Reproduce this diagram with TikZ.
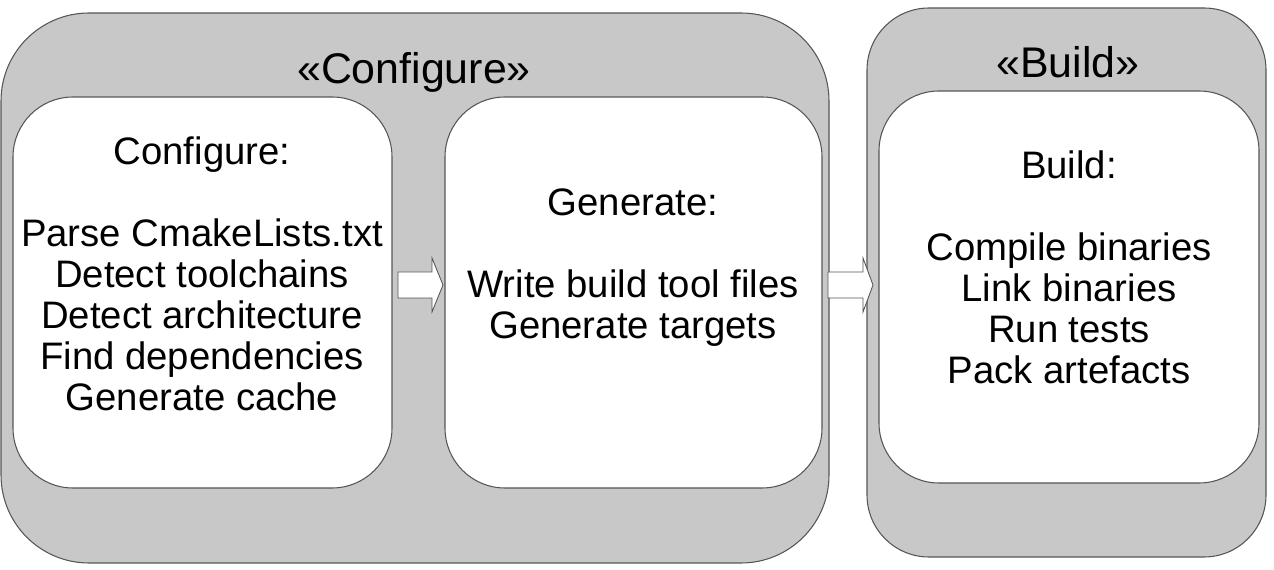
\documentclass[tikz,border=0pt]{standalone}
\usepackage{fontspec}
\setmainfont{Liberation Sans}
\usetikzlibrary{calc}

\definecolor{stagegray}{RGB}{200,200,200}
\definecolor{edgegray}{RGB}{85,85,85}

\tikzset{
  stage/.style={draw=edgegray, fill=stagegray, line width=0.6pt, inner sep=0pt},
  task/.style={draw=edgegray, fill=white, line width=0.6pt, inner sep=0pt,
    minimum height=7.82cm, rounded corners=1.2cm},
  title/.style={font=\fontsize{24.4}{28}\selectfont},
  tasktext/.style={align=center, font=\fontsize{21.8}{23.3}\selectfont},
  blockarrow/.style={draw=edgegray, fill=white, line width=0.5pt}
}

\begin{document}
\begin{tikzpicture}
\useasboundingbox (0,0) rectangle (25.48,11.4);

% stages
\node[stage, minimum width=16.56cm, minimum height=11cm, rounded corners=1.76cm] (configure) at (8.30,5.64) {};
\node[stage, minimum width=7.98cm, minimum height=10.98cm, rounded corners=1.24cm] (build) at (21.33,5.75) {};

\node[title] (configuretitle) at (8.28,9.96) {«Configure»};
\node[title] (buildtitle) at (21.36,10.16) {«Build»};

% tasks
\node[task, minimum width=7.58cm] (configurebox) at (4.05,5.55) {};
\node[task, minimum width=7.54cm] (generatebox) at (12.67,5.55) {};
\node[task, minimum width=7.6cm, minimum height=7.84cm] (buildbox) at (21.38,5.66) {};

\node[tasktext] (configuretext) at (4.04,5.93) {Configure:\\[23.3pt]Parse CmakeLists.txt\\Detect toolchains\\Detect architecture\\Find dependencies\\Generate cache};
\node[tasktext] (generatetext) at (12.66,6.05) {Generate:\\[23.3pt]Write build tool files\\Generate targets};
\node[tasktext] (buildtext) at (21.38,6.05) {Build:\\[23.3pt]Compile binaries\\Link binaries\\Run tests\\Pack artefacts};

% arrows
\coordinate (c1) at (7.96,5.70);
\coordinate (c2) at (16.56,5.70);

\draw[blockarrow] ($(c1)+(0,0.26)$) -- ++(0.68,0) -- ++(0,0.28) -- ($(c1)+(0.90,0)$)
  -- ($(c1)+(0.68,-0.54)$) -- ++(0,0.28) -- ($(c1)+(0,-0.26)$) -- cycle;
\draw[blockarrow] ($(c2)+(0,0.26)$) -- ++(0.70,0) -- ++(0,0.28) -- ($(c2)+(0.90,0)$)
  -- ($(c2)+(0.70,-0.54)$) -- ++(0,0.28) -- ($(c2)+(0,-0.26)$) -- cycle;

\end{tikzpicture}
\end{document}
